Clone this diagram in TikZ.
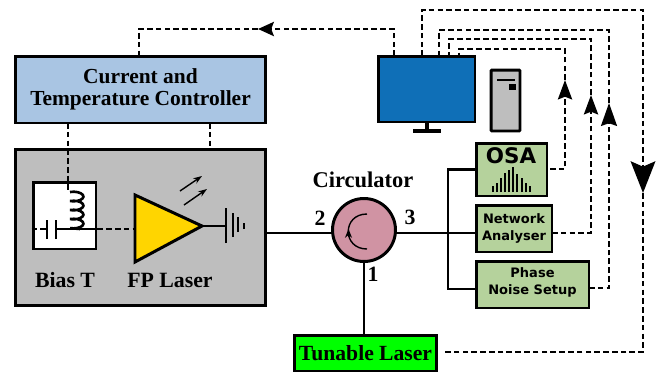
\documentclass[tikz,border=0pt]{standalone}
\usepackage{fontspec}
\setmainfont{Liberation Serif}
\newfontfamily\dejabold{DejaVu Sans Bold}
\usetikzlibrary{arrows.meta}
\definecolor{ctrlblue}{HTML}{A9C5E3}
\definecolor{casegray}{HTML}{BEBEBE}
\definecolor{screenblue}{HTML}{0F6FB7}
\definecolor{ampyellow}{HTML}{FFD500}
\definecolor{circpink}{HTML}{D093A3}
\definecolor{instgreen}{HTML}{B5D29C}
\definecolor{lasergreen}{HTML}{00FF00}
\tikzset{
	solidline/.style={line width=1.5pt},
	dashline/.style={line width=1.5pt,dash pattern=on 3.2pt off 1.8pt},
	blockbox/.style={draw,line width=1.7pt,inner sep=0pt},
	serlabel/.style={font=\fontsize{12.4}{14}\selectfont\bfseries,inner sep=0pt},
	instlabel/.style={font=\dejabold\fontsize{7.4}{9.6}\selectfont,align=center,inner sep=0pt},
}
\begin{document}
\begin{tikzpicture}[x=0.02cm,y=0.02cm]
	\useasboundingbox (0,0) rectangle (662,373);
	% blocks
	\node[blockbox,fill=ctrlblue,minimum width=5.02cm,minimum height=1.34cm,align=center,font=\fontsize{12.2}{12.6}\selectfont\bfseries] (ctrl) at (140.5,283.5) {Current and\\Temperature Controller};
	\node[blockbox,fill=casegray,minimum width=5.02cm,minimum height=3.14cm] (case) at (140.5,145.5) {};
	\node[blockbox,fill=white,minimum width=1.26cm,minimum height=1.34cm] (biast) at (64.5,157.5) {};
	\node[blockbox,fill=screenblue,minimum width=1.94cm,minimum height=1.32cm] (screen) at (426.5,284) {};
	\node[blockbox,fill=casegray,minimum width=0.58cm,minimum height=1.22cm,rounded corners=0.5pt] (tower) at (505.5,272.5) {};
	\node[blockbox,fill=instgreen,minimum width=1.42cm,minimum height=1.06cm] (osa) at (511.5,203.5) {};
	\node[blockbox,fill=instgreen,minimum width=1.52cm,minimum height=0.94cm] (netw) at (514,144.5) {};
	\node[blockbox,fill=instgreen,minimum width=2.26cm,minimum height=0.94cm] (phase) at (532.5,88.5) {};
	\node[blockbox,fill=lasergreen,minimum width=2.86cm,minimum height=0.72cm,font=\fontsize{12.3}{14}\selectfont\bfseries] (tunable) at (365.5,20) {Tunable Laser};
	\node[blockbox,circle,fill=circpink,minimum size=1.26cm] (circ) at (364,143) {};
	\node[instlabel] (netwtext) at (514,144.5) {Network\\Analyser};
	\node[instlabel] (phasetext) at (532.5,91) {Phase\\Noise Setup};
	\node[instlabel,font=\dejabold\fontsize{12.2}{14}\selectfont] (osatext) at (511,217) {OSA};
	% labels
	\node[serlabel,font=\fontsize{12.8}{14}\selectfont\bfseries] (circtext) at (363,193) {Circulator};
	\node[serlabel] (porttwo) at (320,155) {2};
	\node[serlabel] (portthree) at (410,156) {3};
	\node[serlabel] (portone) at (373,99) {1};
	\node[serlabel] (biastext) at (65,93) {Bias T};
	\node[serlabel] (fptext) at (170,93) {FP Laser};
	% laser
	\draw[fill=ampyellow,line width=1.7pt] (135,178)--(135,111)--(202,147)--cycle;
	\coordinate (fpin) at (135,144);
	\coordinate (fpout) at (202,147);
	\coordinate (gnd) at (226,147);
	\draw[solidline] (fpout)--(gnd);
	\draw[solidline] (226,130)--(226,165);
	\draw[solidline] (233,136)--(233,160);
	\draw[solidline] (238,141)--(238,156);
	\draw[solidline] (244,144)--(244,150);
	\draw[line width=0.8pt,-{Stealth[length=5pt,width=3.5pt]}] (180,182)--(202,197);
	\draw[line width=0.8pt,-{Stealth[length=5pt,width=3.5pt]}] (184,168)--(207,184);
	% bias tee
	\coordinate (teeleft) at (47,144);
	\coordinate (teeright) at (56,144);
	\draw[solidline] (70,181) arc[start angle=110,end angle=-110,x radius=10,y radius=4.8] arc[start angle=110,end angle=-110,x radius=10,y radius=4.8] arc[start angle=110,end angle=-110,x radius=10,y radius=4.8] arc[start angle=110,end angle=-110,x radius=10,y radius=4.8]--(80,144);
	\draw[solidline] (47,134)--(47,153);
	\draw[solidline] (56,134)--(56,153);
	\draw[solidline] (teeright)--(biast.east |- teeright);
	\draw[dashline] (biast.west |- teeleft)--(teeleft);
	\draw[dashline] (biast.east |- fpin)--(fpin);
	\draw[dashline] (68,250)--(68,181);
	\draw[dashline] (210,250)--(210,224);
	% monitor
	\coordinate (standtop) at (427,251);
	\coordinate (standbase) at (427,243);
	\draw[line width=2pt] (standtop)--(standbase);
	\draw[line width=2.8pt] (413,242)--(441,242);
	\draw[line width=1.3pt] (497,293)--(515,293);
	\fill (509,283) rectangle (516,289);
	% circulator
	\coordinate (portl) at (332.5,140);
	\coordinate (portr) at (395.5,140);
	\coordinate (bus) at (448,140);
	\draw[solidline] (case.east |- portl)--(portl);
	\draw[solidline] (portr)--(netw.west |- portr);
	\draw[solidline] (osa.west)-|(bus);
	\draw[solidline] (phase.west |- 0,84)-|(bus);
	\draw[solidline] (tunable.north -| circ.south)--(circ.south);
	\draw[line width=0.8pt] (367,159) .. controls (342,159) and (342,124) .. (367,124);
	\draw[line width=0.8pt,-{Stealth[length=5pt,width=4pt]}] (348.5,136)--(348.5,144);
	% spectrum
	\foreach \px/\py in {493/6,497/9,501/14,505/19,509/22,513/25,517/18,522/14,526/9,530/6}
		\draw[line width=0.8pt] (\px,181)--(\px,181+\py);
	% links to the screen
	\draw[dashline,-{Stealth[length=9pt,width=8pt,inset=1.5pt]}] (394,317)--(394,344)--(258,344);
	\draw[dashline] (258,344)--(139,344)--(139,317);
	\draw[dashline,-{Stealth[length=18pt,width=14pt,inset=3pt]}] (422,317)--(422,363)--(643,363)--(643,180);
	\draw[dashline] (643,180)--(643,21)--(442,21);
	\draw[dashline,-{Stealth[length=13pt,width=9pt,inset=1.5pt]}] (589,85)--(609,85)--(609,270);
	\draw[dashline] (609,270)--(609,343)--(439,343)--(439,317);
	\draw[dashline,-{Stealth[length=11pt,width=8pt,inset=1.5pt]}] (552,140)--(591,140)--(591,278);
	\draw[dashline] (591,278)--(591,334)--(449,334)--(449,317);
	\draw[dashline,-{Stealth[length=11pt,width=8pt,inset=1.5pt]}] (550,204)--(565,204)--(565,293);
	\draw[dashline] (565,293)--(565,324)--(459,324)--(459,317);
\end{tikzpicture}
\end{document}
